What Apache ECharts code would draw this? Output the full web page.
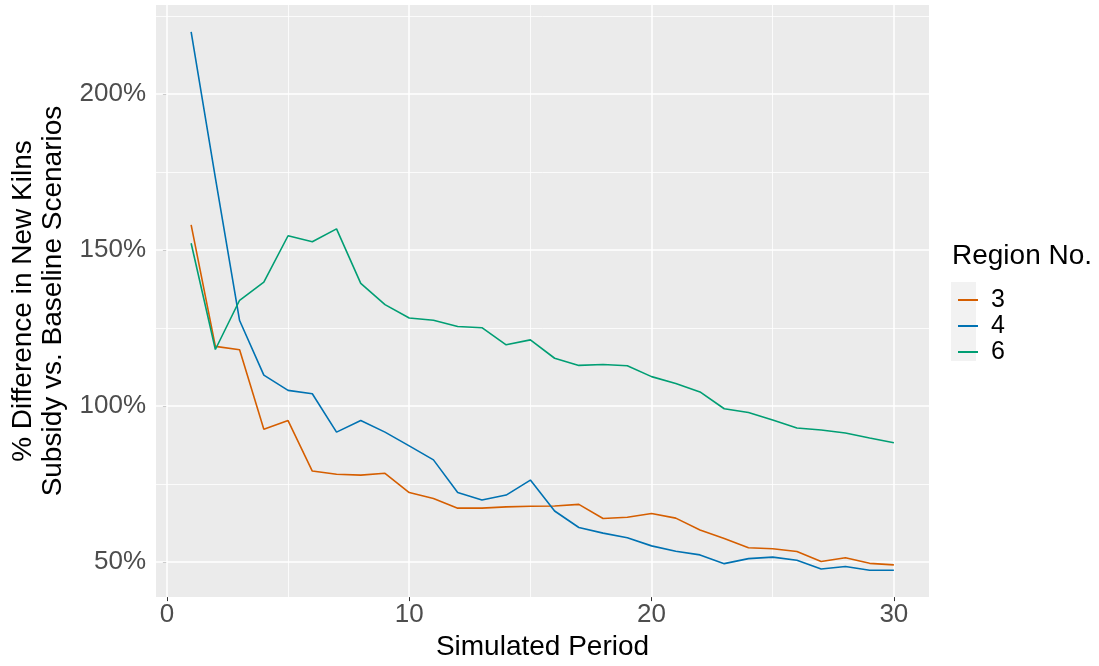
<!DOCTYPE html>
<html>
<head>
<meta charset="utf-8">
<script src="https://cdn.jsdelivr.net/npm/echarts@6/dist/echarts.min.js"></script>
<style>
  html, body { margin: 0; padding: 0; background: #ffffff; }
  #chart { width: 1099px; height: 666px; }
</style>
</head>
<body>
<div id="chart"></div>
<script>
// Simulated periods 1..30
const periods = [1,2,3,4,5,6,7,8,9,10,11,12,13,14,15,16,17,18,19,20,21,22,23,24,25,26,27,28,29,30];

// % difference in new kilns, subsidy vs. baseline, per region
const region3 = [158.1,119.1,118.0,92.5,95.3,79.1,78.1,77.8,78.4,72.2,70.3,67.2,67.2,67.6,67.8,67.9,68.4,63.9,64.3,65.5,64.0,60.2,57.5,54.5,54.2,53.3,50.1,51.3,49.5,49.0];
const region4 = [220.0,173.2,127.4,109.9,105.0,103.9,91.6,95.3,91.6,87.2,82.7,72.2,69.8,71.4,76.2,66.3,61.0,59.2,57.7,55.1,53.4,52.2,49.4,51.0,51.5,50.5,47.7,48.5,47.3,47.3];
const region6 = [152.2,118.1,133.9,139.7,154.6,152.7,156.8,139.3,132.5,128.2,127.5,125.5,125.1,119.6,121.2,115.3,113.0,113.3,112.9,109.4,107.2,104.5,99.1,97.9,95.5,92.9,92.3,91.3,89.7,88.2];

const seriesNames = ['3', '4', '6'];
const seriesColors = ['#D55E00', '#0072B2', '#009E73'];

// Axis breaks
const xMajor = [0, 10, 20, 30];
const xMinor = [5, 15, 25];
const yMajor = [50, 100, 150, 200];
const yMinor = [75, 125, 175, 225];

// Scale limits padded by 5% of the data range on each side
function padded(values) {
  const lo = Math.min.apply(null, values), hi = Math.max.apply(null, values);
  const pad = (hi - lo) * 0.05;
  return [lo - pad, hi + pad];
}
const xLim = padded(periods);
const yLim = padded(region3.concat(region4, region6));

const FONT = '"Liberation Sans", "DejaVu Sans", Arial, sans-serif';

function pairs(vals) { return periods.map((p, i) => [p, vals[i]]); }

const gridLines = []
  .concat(xMinor.map(v => ({ xAxis: v, lineStyle: { width: 0.8 } })))
  .concat(yMinor.map(v => ({ yAxis: v, lineStyle: { width: 0.8 } })))
  .concat(xMajor.map(v => ({ xAxis: v, lineStyle: { width: 1.5 } })))
  .concat(yMajor.map(v => ({ yAxis: v, lineStyle: { width: 1.5 } })));

const chart = echarts.init(document.getElementById('chart'), null, { renderer: 'canvas' });

chart.setOption({
  animation: false,
  backgroundColor: '#ffffff',
  textStyle: { fontFamily: FONT },
  grid: {
    left: 155, top: 5, right: 170, bottom: 68,
    show: true, backgroundColor: '#EBEBEB', borderWidth: 0
  },
  xAxis: {
    type: 'value',
    min: xLim[0], max: xLim[1],
    name: 'Simulated Period',
    nameLocation: 'middle',
    nameGap: 34,
    nameTextStyle: { fontSize: 28, color: '#000000', fontFamily: FONT },
    axisLine: { show: false },
    axisTick: { show: true, length: 4, customValues: xMajor, lineStyle: { color: '#333333', width: 1 } },
    axisLabel: { customValues: xMajor, fontSize: 26, color: '#4D4D4D', margin: 5, fontFamily: FONT },
    splitLine: { show: false }
  },
  yAxis: {
    type: 'value',
    min: yLim[0], max: yLim[1],
    name: '% Difference in New Kilns\nSubsidy vs. Baseline Scenarios',
    nameLocation: 'middle',
    nameRotate: 90,
    nameGap: 88,
    nameTextStyle: { fontSize: 28, lineHeight: 30, color: '#000000', fontFamily: FONT },
    axisLine: { show: false },
    axisTick: { show: true, length: 4, customValues: yMajor, lineStyle: { color: '#333333', width: 1 } },
    axisLabel: { customValues: yMajor, formatter: '{value}%', fontSize: 26, color: '#4D4D4D', margin: 10, fontFamily: FONT },
    splitLine: { show: false }
  },
  legend: {
    orient: 'vertical',
    left: 953, top: 282,
    itemWidth: 20, itemHeight: 2, itemGap: 0,
    icon: 'rect',
    selectedMode: false,
    data: seriesNames,
    textStyle: { fontSize: 25, lineHeight: 26, color: '#000000', padding: [0, 0, 0, 8], fontFamily: FONT }
  },
  graphic: [
    { type: 'rect', left: 951, top: 282, z: -1, shape: { width: 25, height: 79 }, style: { fill: '#F2F2F2' } },
    { type: 'text', left: 952, top: 242, style: { text: 'Region No.', fontSize: 28, fill: '#000000', fontFamily: FONT } }
  ],
  series: [
    {
      name: '_grid', type: 'line', data: [], silent: true, z: 1,
      markLine: {
        silent: true, symbol: 'none', z: 1, animation: false,
        label: { show: false },
        lineStyle: { color: '#FFFFFF', type: 'solid' },
        emphasis: { disabled: true },
        data: gridLines
      }
    },
    { name: seriesNames[0], type: 'line', data: pairs(region3), showSymbol: false, z: 3,
      color: seriesColors[0], lineStyle: { width: 1.6, color: seriesColors[0] } },
    { name: seriesNames[1], type: 'line', data: pairs(region4), showSymbol: false, z: 3,
      color: seriesColors[1], lineStyle: { width: 1.6, color: seriesColors[1] } },
    { name: seriesNames[2], type: 'line', data: pairs(region6), showSymbol: false, z: 3,
      color: seriesColors[2], lineStyle: { width: 1.6, color: seriesColors[2] } }
  ]
});
</script>
</body>
</html>
